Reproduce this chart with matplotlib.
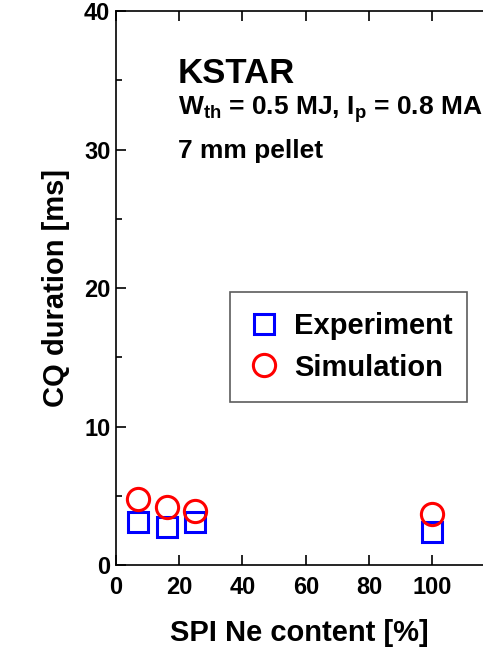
import numpy as np
import matplotlib
matplotlib.use("Agg")
import matplotlib.pyplot as plt

# ---------------- data
ne_content = [7, 16, 25, 100]
cq_exp = [3.1, 2.75, 3.1, 2.4]
cq_sim = [4.8, 4.2, 3.9, 3.7]

x_ticks = [0, 20, 40, 60, 80, 100]
y_ticks = [0, 10, 20, 30, 40]

plt.rcParams['font.family'] = ['Liberation Sans', 'DejaVu Sans']
plt.rcParams['font.weight'] = 'bold'
plt.rcParams['mathtext.fontset'] = 'custom'
plt.rcParams['mathtext.rm'] = 'Liberation Sans:bold'
plt.rcParams['mathtext.it'] = 'Liberation Sans:bold'
plt.rcParams['mathtext.bf'] = 'Liberation Sans:bold'

fig = plt.figure(figsize=(4.83, 6.54), dpi=100)
ax = fig.add_axes([0.240, 0.136, 0.760, 0.847])

ax.plot(ne_content, cq_exp, 's', ms=15, mfc='none', mec=(0, 0, 1), mew=2.2,
        ls='none', label='Experiment')
ax.plot(ne_content, cq_sim, 'o', ms=16, mfc='none', mec=(1, 0, 0), mew=2.2,
        ls='none', label='Simulation')

ax.set_xlim(0, 116)
ax.set_ylim(0, 40)
ax.set_xticks(x_ticks)
ax.set_yticks(y_ticks)
ax.set_yticks([5, 15, 25, 35], minor=True)
ax.tick_params(which='both', direction='in', top=True, right=False,
               labelsize=17, width=1.2)
ax.tick_params(which='major', length=7)
ax.tick_params(which='minor', length=4)
ax.tick_params(axis='x', pad=8)
ax.tick_params(axis='y', pad=4)
ax.spines['right'].set_visible(False)
for s in ['left', 'top', 'bottom']:
    ax.spines[s].set_linewidth(1.2)

ax.set_xlabel('SPI Ne content [%]', fontsize=21, fontweight='bold', labelpad=14)
ax.set_ylabel('CQ duration [ms]', fontsize=21, fontweight='bold', labelpad=10)

ax.text(0.168, 0.870, 'KSTAR', transform=ax.transAxes, fontsize=25,
        fontweight='bold', va='baseline')
ax.text(0.168, 0.812, r'W$_{\rm th}$ = 0.5 MJ, I$_{\rm p}$ = 0.8 MA',
        transform=ax.transAxes, fontsize=19, fontweight='bold', va='baseline')
ax.text(0.168, 0.735, '7 mm pellet', transform=ax.transAxes, fontsize=19,
        fontweight='bold', va='baseline')

leg = ax.legend(loc='upper left', bbox_to_anchor=(0.311, 0.295, 0.645, 0.198),
                mode='expand', borderaxespad=0, fontsize=21, frameon=True,
                fancybox=False, edgecolor='#333333', handlelength=0.9,
                handletextpad=0.6, markerscale=1.0, borderpad=0.7,
                labelspacing=0.45)
leg.get_frame().set_linewidth(1.2)

plt.savefig("out.png", dpi=100)
plt.close()
